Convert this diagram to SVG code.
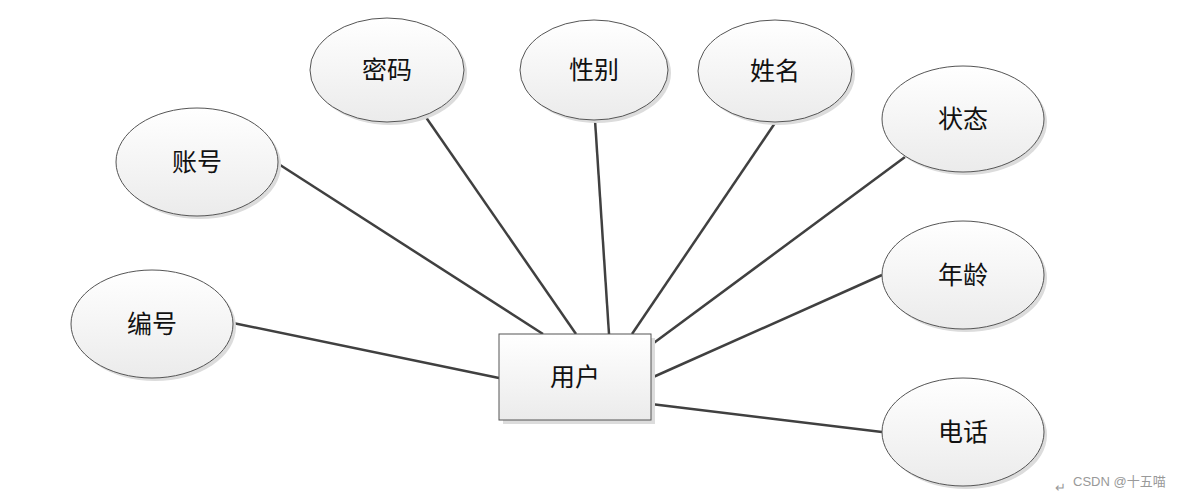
<svg xmlns="http://www.w3.org/2000/svg" width="1188" height="497" viewBox="0 0 1188 497">
<defs>
<linearGradient id="g" x1="0" y1="0" x2="0" y2="1">
<stop offset="0" stop-color="#ffffff"/>
<stop offset="1" stop-color="#ebebeb"/>
</linearGradient>
<style>
.sh{fill:#dcdcdc;}
.n{fill:url(#g);stroke:#555;stroke-width:1;}
.t{font-family:"Noto Sans CJK SC",sans-serif;font-size:25px;fill:#111;text-anchor:middle;}
.c line{stroke:#404040;stroke-width:2.5;}
.wm{font-family:"Liberation Sans","Noto Sans CJK SC",sans-serif;font-size:13px;fill:#999;}
</style>
</defs>
<rect width="1188" height="497" fill="#fff"/>
<g class="c" id="connectors">
<line x1="277" y1="163" x2="543" y2="334"/>
<line x1="423" y1="113" x2="576" y2="334"/>
<line x1="595" y1="120" x2="609" y2="334"/>
<line x1="775" y1="123" x2="632" y2="334"/>
<line x1="905" y1="157" x2="651" y2="345"/>
<line x1="882" y1="275" x2="651" y2="378"/>
<line x1="882" y1="432" x2="651" y2="404"/>
<line x1="233" y1="323" x2="499" y2="378"/>
</g>
<g id="yonghu">
<rect class="sh" x="503" y="338" width="152" height="86"/>
<rect class="n" x="499" y="334" width="152" height="86"/>
<text class="t" x="575" y="386">用户</text>
</g>
<g id="mima">
<ellipse class="sh" cx="390" cy="73" rx="77" ry="52"/>
<ellipse class="n" cx="387" cy="70" rx="77" ry="52"/>
<text class="t" x="387" y="79">密码</text>
</g>
<g id="xingbie">
<ellipse class="sh" cx="597" cy="73" rx="74" ry="50"/>
<ellipse class="n" cx="594" cy="70" rx="74" ry="50"/>
<text class="t" x="594" y="79">性别</text>
</g>
<g id="xingming">
<ellipse class="sh" cx="778" cy="74" rx="77" ry="51"/>
<ellipse class="n" cx="775" cy="71" rx="77" ry="51"/>
<text class="t" x="775" y="80">姓名</text>
</g>
<g id="zhuangtai">
<ellipse class="sh" cx="966" cy="122" rx="81" ry="53"/>
<ellipse class="n" cx="963" cy="119" rx="81" ry="53"/>
<text class="t" x="963" y="128">状态</text>
</g>
<g id="zhanghao">
<ellipse class="sh" cx="200" cy="165" rx="81" ry="54"/>
<ellipse class="n" cx="197" cy="162" rx="81" ry="54"/>
<text class="t" x="197" y="171">账号</text>
</g>
<g id="bianhao">
<ellipse class="sh" cx="155" cy="327" rx="81" ry="54"/>
<ellipse class="n" cx="152" cy="324" rx="81" ry="54"/>
<text class="t" x="152" y="333">编号</text>
</g>
<g id="nianling">
<ellipse class="sh" cx="966" cy="278" rx="81" ry="54"/>
<ellipse class="n" cx="963" cy="275" rx="81" ry="54"/>
<text class="t" x="963" y="284">年龄</text>
</g>
<g id="dianhua">
<ellipse class="sh" cx="966" cy="435" rx="81" ry="54"/>
<ellipse class="n" cx="963" cy="432" rx="81" ry="54"/>
<text class="t" x="963" y="441">电话</text>
</g>
<text class="wm" x="1055" y="492" font-size="10">↵</text>
<text class="wm" x="1073" y="486">CSDN @十五喵</text>
</svg>
